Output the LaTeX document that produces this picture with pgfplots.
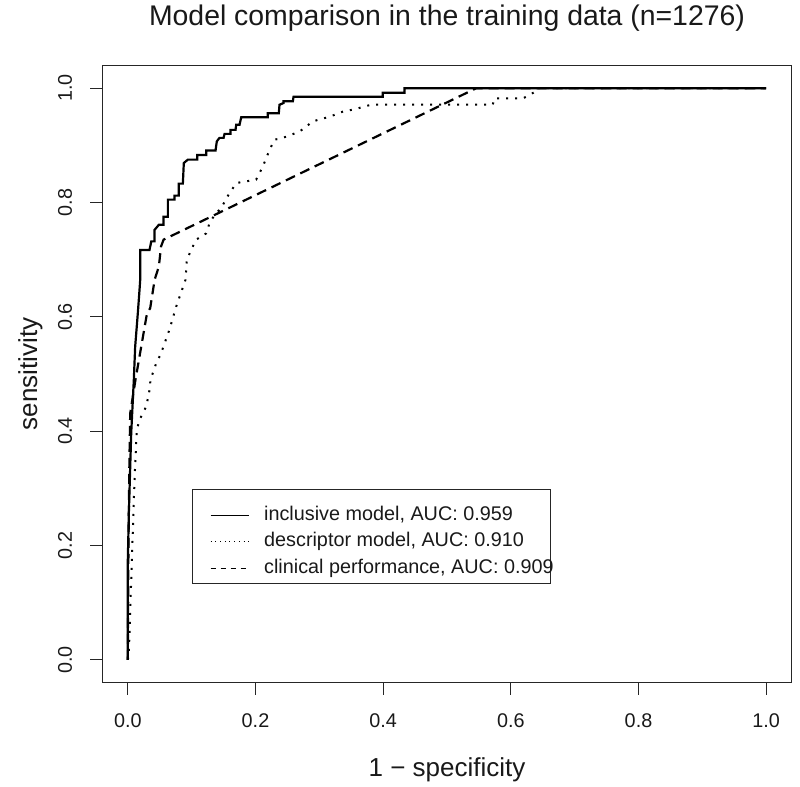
\documentclass[border=0pt]{standalone}
\usepackage{fontspec}
\setmainfont{Liberation Sans}
\usepackage{pgfplots}
\pgfplotsset{compat=1.18}
\usepackage{pgfplotstable}

\pgfplotstableread{
x y
0 0
0 0.175
0.0016 0.257
0.0053 0.397
0.0094 0.490
0.0115 0.548
0.0157 0.607
0.0183 0.647
0.0194 0.665
0.0194 0.717
0.034 0.717
0.0367 0.732
0.0418 0.732
0.0418 0.752
0.0486 0.761
0.0559 0.761
0.0559 0.775
0.0627 0.775
0.0627 0.805
0.0732 0.805
0.0732 0.812
0.0799 0.812
0.0799 0.833
0.0862 0.833
0.0877 0.869
0.094 0.875
0.1087 0.875
0.1087 0.883
0.1228 0.883
0.1228 0.891
0.1374 0.891
0.1394 0.907
0.1436 0.913
0.15 0.913
0.1515 0.920
0.1609 0.920
0.1609 0.927
0.1687 0.927
0.1698 0.936
0.175 0.936
0.1776 0.949
0.2193 0.949
0.2193 0.956
0.2365 0.956
0.2376 0.971
0.2439 0.974
0.2439 0.977
0.2585 0.977
0.2596 0.985
0.3994 0.985
0.3994 0.992
0.4334 0.992
0.4334 1
1 1
}\inclusive

\pgfplotstableread{
x y
0 0
0.0016 0.012
0.0053 0.14
0.0105 0.315
0.014 0.402
0.0183 0.42
0.0288 0.443
0.034 0.472
0.0355 0.49
0.0445 0.519
0.052 0.536
0.065 0.577
0.0758 0.618
0.0904 0.665
0.0924 0.70
0.0993 0.717
0.107 0.735
0.1228 0.746
0.128 0.764
0.1358 0.778
0.146 0.790
0.159 0.816
0.170 0.834
0.201 0.840
0.2115 0.863
0.222 0.892
0.2298 0.91
0.2403 0.912
0.269 0.924
0.29 0.942
0.316 0.950
0.337 0.959
0.355 0.963
0.381 0.971
0.5717 0.971
0.574 0.982
0.619 0.982
0.637 0.993
0.64 1
1 1
}\descriptor

\pgfplotstableread{
x y
0 0
0.001 0.20
0.0025 0.35
0.0037 0.431
0.012 0.49
0.021 0.548
0.030 0.606
0.035 0.615
0.042 0.665
0.0486 0.688
0.052 0.723
0.056 0.735
0.546 1
1 1
}\clinical

\begin{document}
\begin{tikzpicture}
\useasboundingbox (-102.3bp,-104.3bp) rectangle (697.7bp,682.7bp);
\begin{axis}[
  at={(0,0)}, anchor=south west,
  scale only axis, width=689.4bp, height=617.4bp,
  xmin=-0.04, xmax=1.04, ymin=-0.04, ymax=1.04,
  axis line style={black!85, line width=1.2bp},
  tick pos=left, tick align=outside, major tick length=12bp,
  tick style={black!85, line width=1.2bp},
  xtick={0,0.2,0.4,0.6,0.8,1}, ytick={0,0.2,0.4,0.6,0.8,1},
  xticklabels={0.0,0.2,0.4,0.6,0.8,1.0},
  yticklabels={0.0,0.2,0.4,0.6,0.8,1.0},
  /pgf/number format/assume math mode=true,
  ticklabel style={font=\fontsize{19.8bp}{24bp}\selectfont, text=black!90},
  xticklabel style={anchor=base, yshift=-32.7bp},
  yticklabel style={rotate=90, anchor=base},
  yticklabel shift=18.5bp,
  title={Model comparison in the training data (n=1276)},
  title style={at={(axis description cs:0.5,1)}, anchor=base, yshift=33.6bp,
    font=\fontsize{28.4bp}{34bp}\selectfont, text=black!90},
  xlabel={1 − specificity},
  xlabel style={at={(axis description cs:0.5,0)}, anchor=base, yshift=-93.3bp,
    font=\fontsize{26bp}{30bp}\selectfont, text=black!90},
  ylabel={sensitivity},
  ylabel style={at={(axis description cs:-0.0945,0.5)}, anchor=base, rotate=0,
    font=\fontsize{26bp}{30bp}\selectfont, text=black!90},
  legend style={at={(axis description cs:0.1562,0.2925)}, anchor=north west,
    draw=none, fill=none, inner sep=0bp,
    font=\fontsize{19.8bp}{24bp}\selectfont, text=black!90,
    nodes={inner xsep=0bp, inner ysep=4.15bp, text height=14bp, text depth=4bp},
    column sep=15bp, row sep=0bp},
  legend cell align=left,
  legend image code/.code={\draw[#1] (0bp,0bp) -- (38bp,0bp);},
]
\addlegendimage{black, line width=1bp}
\addlegendentry{inclusive model, AUC: 0.959}
\addlegendimage{black, line width=1bp, dash pattern=on 1bp off 3.7bp}
\addlegendentry{descriptor model, AUC: 0.910}
\addlegendimage{black, line width=1bp, dash pattern=on 5bp off 5bp}
\addlegendentry{clinical performance, AUC: 0.909}

\addplot[forget plot, black, line width=2.2bp] table[x=x,y=y] {\inclusive};
\addplot[forget plot, black, line width=2bp, dash pattern=on 2bp off 7bp] table[x=x,y=y] {\descriptor};
\addplot[forget plot, black, line width=2.2bp, dash pattern=on 10bp off 6bp] table[x=x,y=y] {\clinical};

\draw[black!85, line width=1bp] (axis description cs:0.1311,0.1610) rectangle (axis description cs:0.6504,0.3133);
\end{axis}
\end{tikzpicture}
\end{document}
